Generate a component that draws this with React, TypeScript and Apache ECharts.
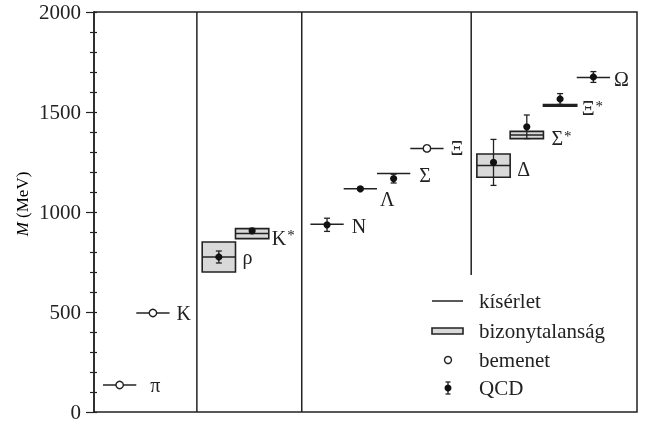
import React, { useEffect, useRef } from "react";
import * as echarts from "echarts";

// ---- data ----
const NAMES = ["π", "K", "ρ", "K*", "N", "Λ", "Σ", "\u039E", "Δ", "Σ*", "\u039E*", "Ω"];
const SLOTS = [0.77, 1.77, 3.75, 4.75, 7, 8, 9, 10, 12, 13, 14, 15];
const EXP_MASS = [135, 495, 775, 892, 939, 1116, 1193, 1318, 1232, 1385, 1533, 1672];
const EXP_HALF_WIDTH = [0, 0, 75, 25, 0, 0, 0, 0, 58, 18, 4.5, 0];
const IS_INPUT = [true, true, false, false, false, false, false, true, false, false, false, false];
const QCD_MASS = [0, 0, 775, 906, 936, 1116, 1167, 0, 1248, 1426, 1565, 1675];
const QCD_ERR = [0, 0, 30, 12, 33, 8, 22, 0, 115, 59, 27, 27];
const DIVIDER_X = [3.09, 6.24, 11.33];
const DIVIDER_FROM = [0, 0, 685];
const DIVIDER_TO = [2000, 2000, 2000];
const Y_MIN = 0;
const Y_MAX = 2000;
const Y_INTERVAL = 500;
const LEGEND_LABELS = ["kísérlet", "bizonytalanság", "bemenet", "QCD"];

// ---- layout (label nudges in px) ----
const LABEL_DX = [14, 7, 7, 3, 8, 3, 9, 7, 7, 8, 5, 4];
const LABEL_DY = [0, 0, 0, 4, 2, 10, 2, 0, 3, 3, 3, 1];

const FONT = "'Liberation Serif', 'Times New Roman', serif";
const INK = "#222";
const BOX_FILL = "#d9d9d9";

function labelRich(name: string): string {
  if (name.endsWith("*")) return `{m|${name.slice(0, -1)}}{s|*}`;
  return `{m|${name}}`;
}

export default function App() {
  const ref = useRef<HTMLDivElement>(null);
  useEffect(() => {
    if (!ref.current) return;
    const chart = echarts.init(ref.current, undefined, { renderer: "svg" });

    const richStyles = {
      m: { fontSize: 20, fontFamily: FONT, color: INK },
      s: { fontSize: 15, fontFamily: FONT, color: INK, verticalAlign: "top" as const, padding: [0, 0, 0, 1] },
    };

    const legendY = [301, 331, 360, 388];
    const lx0 = 432, lx1 = 463, lxc = 448, ltx = 479;

    const option: any = {
      animation: false,
      grid: { left: 94, right: 11, top: 12, bottom: 11, show: true, borderColor: INK, borderWidth: 1.5, backgroundColor: "transparent" },
      xAxis: {
        type: "value", min: 0, max: 16.31,
        axisLine: { show: false }, axisTick: { show: false }, axisLabel: { show: false }, splitLine: { show: false },
      },
      yAxis: [
        {
          type: "value", min: Y_MIN, max: Y_MAX, interval: Y_INTERVAL, position: "left",
          axisLine: { show: true, lineStyle: { color: INK, width: 1.5 } },
          axisTick: { show: true, length: 8, lineStyle: { color: INK, width: 1.2 } },
          minorTick: { show: true, splitNumber: 5, length: 4, lineStyle: { color: INK, width: 1.2 } },
          axisLabel: { fontSize: 21, fontFamily: FONT, color: INK, margin: 13, formatter: (v: number) => String(v) },
          splitLine: { show: false },
        },
        {
          type: "value", min: Y_MIN, max: Y_MAX, interval: 100, position: "left",
          axisLine: { show: false },
          axisTick: { show: true, inside: true, length: 3, lineStyle: { color: INK, width: 1.2 } },
          axisLabel: { show: false }, splitLine: { show: false },
        },
      ],
      series: [
        {
          type: "custom",
          name: "dividers",
          data: DIVIDER_X.map((x, i) => [x, DIVIDER_FROM[i], DIVIDER_TO[i]]),
          renderItem: (params: any, api: any) => {
            const x = api.value(0);
            const p0 = api.coord([x, api.value(1)]);
            const p1 = api.coord([x, api.value(2)]);
            return { type: "line", shape: { x1: p0[0], y1: p0[1], x2: p1[0], y2: p1[1] }, style: { stroke: INK, lineWidth: 1.5 } };
          },
          silent: true,
        },
        {
          type: "custom",
          name: "hadrons",
          data: NAMES.map((_, i) => [SLOTS[i], EXP_MASS[i]]),
          renderItem: (params: any, api: any) => {
            const i = params.dataIndex;
            const x = SLOTS[i];
            const m = EXP_MASS[i];
            const hw = EXP_HALF_WIDTH[i];
            const [xl, y] = api.coord([x - 0.5, m]);
            const [xr] = api.coord([x + 0.5, m]);
            const [xc] = api.coord([x, m]);
            const children: any[] = [];
            if (hw > 0) {
              const yt = api.coord([x, m + hw])[1];
              const yb = api.coord([x, m - hw])[1];
              children.push({ type: "rect", shape: { x: xl, y: yt, width: xr - xl, height: yb - yt }, style: { fill: BOX_FILL, stroke: INK, lineWidth: 1.6 } });
            }
            children.push({ type: "line", shape: { x1: xl, y1: y, x2: xr, y2: y }, style: { stroke: INK, lineWidth: 1.5 } });
            if (IS_INPUT[i]) {
              children.push({ type: "circle", shape: { cx: xc, cy: y, r: 3.7 }, style: { fill: "#fff", stroke: INK, lineWidth: 1.4 } });
            } else {
              const q = QCD_MASS[i];
              const e = QCD_ERR[i];
              const yq = api.coord([x, q])[1];
              const ye1 = api.coord([x, q + e])[1];
              const ye2 = api.coord([x, q - e])[1];
              children.push({ type: "line", shape: { x1: xc, y1: ye1, x2: xc, y2: ye2 }, style: { stroke: INK, lineWidth: 1.3 } });
              children.push({ type: "line", shape: { x1: xc - 3, y1: ye1, x2: xc + 3, y2: ye1 }, style: { stroke: INK, lineWidth: 1.3 } });
              children.push({ type: "line", shape: { x1: xc - 3, y1: ye2, x2: xc + 3, y2: ye2 }, style: { stroke: INK, lineWidth: 1.3 } });
              children.push({ type: "circle", shape: { cx: xc, cy: yq, r: 3.6 }, style: { fill: "#111" } });
            }
            children.push({
              type: "text",
              x: xr + LABEL_DX[i],
              y: y + LABEL_DY[i],
              style: { text: labelRich(NAMES[i]), rich: richStyles, align: "left", verticalAlign: "middle", fill: INK, fontSize: 20, fontFamily: FONT },
            });
            return { type: "group", children };
          },
          silent: true,
        },
      ],
      graphic: [
        {
          type: "text", x: 22, y: 204, rotation: Math.PI / 2,
          style: {
            text: "{i|M}{n| (MeV)}",
            align: "center", verticalAlign: "middle",
            rich: {
              i: { fontSize: 17, fontFamily: FONT, fontStyle: "italic", color: INK },
              n: { fontSize: 17, fontFamily: FONT, color: INK },
            },
          },
        },
        { type: "line", shape: { x1: lx0, y1: legendY[0], x2: lx1, y2: legendY[0] }, style: { stroke: INK, lineWidth: 1.5 } },
        { type: "rect", shape: { x: lx0, y: legendY[1] - 3, width: lx1 - lx0, height: 6 }, style: { fill: BOX_FILL, stroke: INK, lineWidth: 1.6 } },
        { type: "circle", shape: { cx: lxc, cy: legendY[2], r: 3.5 }, style: { fill: "#fff", stroke: INK, lineWidth: 1.4 } },
        { type: "line", shape: { x1: lxc, y1: legendY[3] - 6, x2: lxc, y2: legendY[3] + 6 }, style: { stroke: INK, lineWidth: 1.3 } },
        { type: "line", shape: { x1: lxc - 2.5, y1: legendY[3] - 6, x2: lxc + 2.5, y2: legendY[3] - 6 }, style: { stroke: INK, lineWidth: 1.3 } },
        { type: "line", shape: { x1: lxc - 2.5, y1: legendY[3] + 6, x2: lxc + 2.5, y2: legendY[3] + 6 }, style: { stroke: INK, lineWidth: 1.3 } },
        { type: "circle", shape: { cx: lxc, cy: legendY[3], r: 3.5 }, style: { fill: "#111" } },
        ...LEGEND_LABELS.map((t, k) => ({
          type: "text", x: ltx, y: legendY[k],
          style: { text: t, fontSize: 21, fontFamily: FONT, fill: INK, align: "left", verticalAlign: "middle" },
        })),
      ],
    };
    chart.setOption(option);
    return () => chart.dispose();
  }, []);
  return <div ref={ref} style={{ position: "fixed", left: 0, top: 0, width: 648, height: 423 }} />;
}
